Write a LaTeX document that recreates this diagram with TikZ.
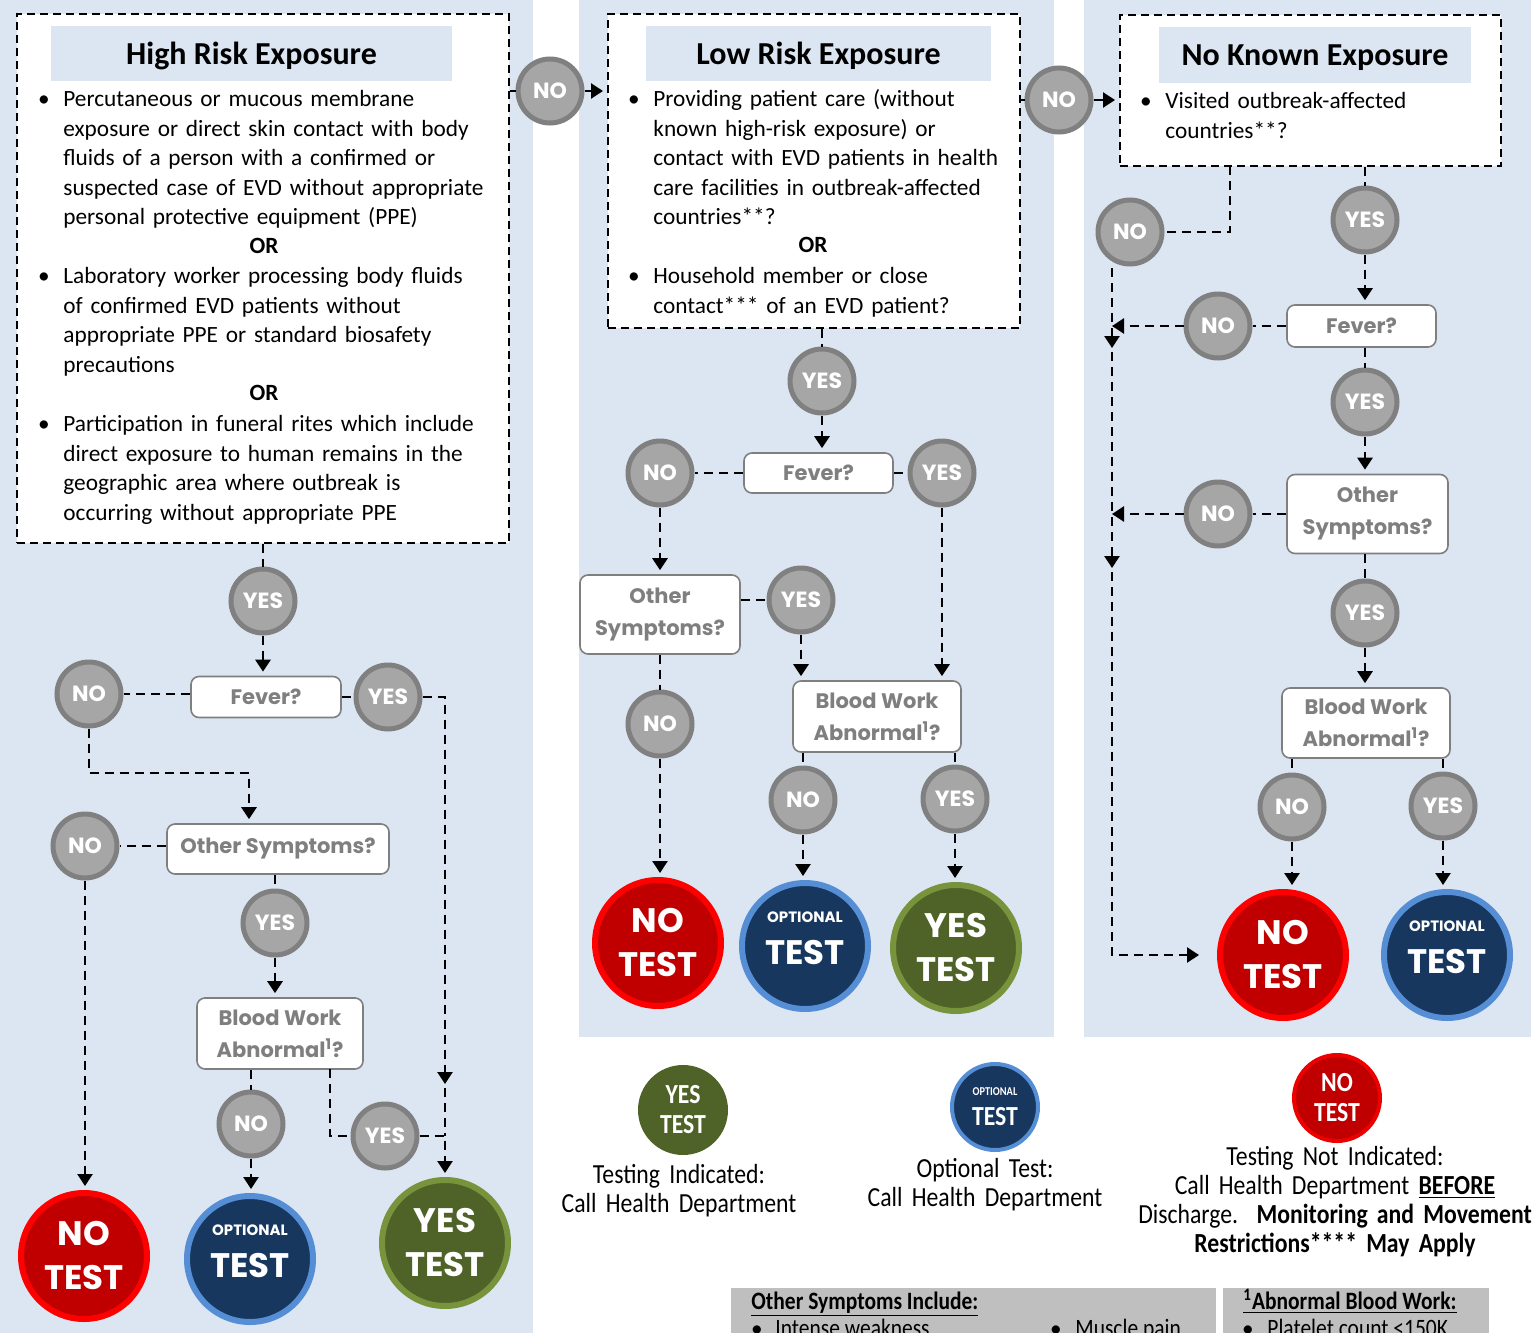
\documentclass[tikz,border=0pt]{standalone}
\usepackage{fontspec}
\setmainfont{Carlito}
\newfontfamily\gothicfont{Poppins}
\newfontfamily\narrowfont{Carlito}[FakeStretch=0.86]
\usetikzlibrary{arrows.meta,positioning,calc}

\definecolor{panelblue}{HTML}{DCE6F2}
\definecolor{ansfill}{HTML}{A6A6A6}
\definecolor{ansedge}{HTML}{808080}
\definecolor{askgray}{HTML}{7F7F7F}
\definecolor{nofill}{HTML}{C00000}
\definecolor{noedge}{HTML}{FF0000}
\definecolor{optfill}{HTML}{17375E}
\definecolor{optedge}{HTML}{558ED5}
\definecolor{yesfill}{HTML}{4F6228}
\definecolor{yesedge}{HTML}{77933C}
\definecolor{keygray}{HTML}{BFBFBF}

\tikzset{
  flow/.style={line width=1.3pt, dash pattern=on 4.5pt off 3pt},
  flowarrow/.style={flow, -{Triangle[width=7.5pt,length=6pt]}, shorten >=2pt},
  expbox/.style={draw=black, fill=white, line width=1pt, dash pattern=on 4pt off 2.5pt},
  band/.style={fill=panelblue, text depth=0pt, font=\bfseries\fontsize{16}{18}\selectfont},
  itemtext/.style={inner sep=0pt, text width=230pt, align=left, font=\fontsize{11.65}{14.75}\selectfont},
  dot/.style={inner sep=0pt, font=\fontsize{11.65}{14.75}\selectfont},
  ortext/.style={inner sep=0pt, font=\bfseries\fontsize{11.65}{14.75}\selectfont},
  ask/.style={draw=askgray, fill=white, line width=0.8pt, rounded corners=4pt, text=askgray,
    align=center, inner sep=0pt, font=\gothicfont\bfseries\fontsize{10.5}{16}\selectfont},
  ans/.style={circle, fill=ansfill, draw=ansedge, line width=2.5pt, minimum size=32pt,
    inner sep=0pt, text=white, font=\gothicfont\bfseries\fontsize{11}{12}\selectfont},
  outcome/.style={circle, minimum size=63pt, line width=3pt, inner sep=0pt, text=white,
    align=center, font=\gothicfont\bfseries\fontsize{17}{22}\selectfont},
  notest/.style={outcome, fill=nofill, draw=noedge},
  opttest/.style={outcome, fill=optfill, draw=optedge},
  yestest/.style={outcome, fill=yesfill, draw=yesedge},
  keycircle/.style={circle, minimum size=43pt, line width=2pt, inner sep=0pt, text=white,
    align=center, font=\narrowfont\bfseries\fontsize{13.8}{15}\selectfont},
  keytext/.style={inner sep=0pt, align=center, font=\narrowfont\fontsize{13.8}{14.5}\selectfont},
  foottext/.style={inner sep=0pt, font=\narrowfont\fontsize{12.5}{14.5}\selectfont}
}

\newcommand{\OptLabel}{{\fontsize{7.5}{9}\selectfont OPTIONAL}\\[-1pt]TEST\\[-14pt]\mbox{}}

% bullet and its text, text starts 19px right of the bullet
\newcommand{\ExpItem}[4]{
  \node[dot, anchor=base] (#1d) at (#2,#3) {\textbullet};
  \node[itemtext, anchor=base west] (#1) at ($(#2,#3)+(19,0)$) {#4};
}

\begin{document}
\begin{tikzpicture}[x=0.5pt,y=-0.5pt]
\useasboundingbox (0,0) rectangle (1538,1333);

% panels
\fill[panelblue] (0,0) rectangle (533,1333);
\fill[panelblue] (579,0) rectangle (1054,1037);
\fill[panelblue] (1084,0) rectangle (1531,1037);
\fill[keygray] (731,1288) rectangle (1216,1340);
\fill[keygray] (1223,1288) rectangle (1489,1340);

% exposure boxes
\node[expbox, minimum width=246pt, minimum height=264.5pt] (hiBox) at (263,278.5) {};
\node[expbox, minimum width=206pt, minimum height=157pt] (loBox) at (814,171) {};
\node[expbox, minimum width=190.5pt, minimum height=75.5pt] (noBox) at (1310.5,90.5) {};

\node[band, minimum width=200.5pt, minimum height=27.5pt] (hiBand) at (251.5,53.5) {High Risk Exposure};
\node[band, minimum width=172.5pt, minimum height=27.5pt] (loBand) at (818.5,53.5) {Low Risk Exposure};
\node[band, minimum width=156pt, minimum height=28pt] (noBand) at (1315,55) {No Known Exposure};

\ExpItem{hiA}{44}{106.5}{Percutaneous or mucous membrane\\exposure or direct skin contact with body\\fluids of a person with a confirmed or\\suspected case of EVD without appropriate\\personal protective equipment (PPE)}
\node[ortext, anchor=base] (hiOr1) at (264,253.5) {OR};
\ExpItem{hiB}{44}{283.5}{Laboratory worker processing body fluids\\of confirmed EVD patients without\\appropriate PPE or standard biosafety\\precautions}
\node[ortext, anchor=base] (hiOr2) at (264,400.5) {OR};
\ExpItem{hiC}{44}{431.5}{Participation in funeral rites which include\\direct exposure to human remains in the\\geographic area where outbreak is\\occurring without appropriate PPE}

\ExpItem{loA}{634}{106.5}{Providing patient care (without\\known high-risk exposure) or\\contact with EVD patients in health\\care facilities in outbreak-affected\\countries**?}
\node[ortext, anchor=base] (loOr) at (813,252.5) {OR};
\ExpItem{loB}{634}{283.5}{Household member or close\\contact*** of an EVD patient?}

\ExpItem{noA}{1146}{108.5}{Visited outbreak-affected\\countries**?}

% question boxes
\node[ask, minimum width=75pt, minimum height=20.5pt] (feverL) at (266,697) {Fever?};
\node[ask, minimum width=111pt, minimum height=25pt] (otherL) at (278,849) {Other Symptoms?};
\node[ask, minimum width=83pt, minimum height=35.5pt] (bloodL) at (280,1033.5) {Blood Work\\Abnormal\textsuperscript{1}?};
\node[ask, minimum width=74.5pt, minimum height=20pt] (feverM) at (818.5,473) {Fever?};
\node[ask, minimum width=80pt, minimum height=39.5pt] (otherM) at (660,614.5) {Other\\Symptoms?};
\node[ask, minimum width=84pt, minimum height=35.5pt] (bloodM) at (877,716.5) {Blood Work\\Abnormal\textsuperscript{1}?};
\node[ask, minimum width=74.5pt, minimum height=21pt] (feverR) at (1361.5,326) {Fever?};
\node[ask, minimum width=80.5pt, minimum height=39.5pt] (otherR) at (1367.5,514) {Other\\Symptoms?};
\node[ask, minimum width=84pt, minimum height=35pt] (bloodR) at (1366,723) {Blood Work\\Abnormal\textsuperscript{1}?};

% answers
\node[ans] (noA1) at (550,91) {NO};
\node[ans] (noB1) at (1059,100) {NO};

\node[ans] (yesL1) at (263,601) {YES};
\node[ans] (noL1) at (89,694) {NO};
\node[ans] (yesL2) at (388,697) {YES};
\node[ans] (noL2) at (85,846) {NO};
\node[ans] (yesL3) at (275,923) {YES};
\node[ans] (noL3) at (251,1124) {NO};
\node[ans] (yesL4) at (385,1136) {YES};

\node[ans] (yesM1) at (822,381) {YES};
\node[ans] (noM1) at (660,473) {NO};
\node[ans] (yesM2) at (942,473) {YES};
\node[ans] (yesM3) at (801,600) {YES};
\node[ans] (noM2) at (660,724) {NO};
\node[ans] (noM3) at (803,800) {NO};
\node[ans] (yesM4) at (955,799) {YES};

\node[ans] (yesR1) at (1365,220) {YES};
\node[ans] (noR1) at (1130,232) {NO};
\node[ans] (noR2) at (1218,326) {NO};
\node[ans] (yesR2) at (1365,402) {YES};
\node[ans] (noR3) at (1218,514) {NO};
\node[ans] (yesR3) at (1365,613) {YES};
\node[ans] (noR4) at (1292,807) {NO};
\node[ans] (yesR4) at (1443,806) {YES};

% outcomes
\node[notest] (noTL) at (84,1256) {NO\\TEST};
\node[opttest] (optL) at (250,1259) {\OptLabel};
\node[yestest] (yesTL) at (445,1243) {YES\\TEST};
\node[notest] (noTM) at (658,943) {NO\\TEST};
\node[opttest] (optM) at (805,946) {\OptLabel};
\node[yestest] (yesTM) at (956,948) {YES\\TEST};
\node[notest] (noTR) at (1283,955) {NO\\TEST};
\node[opttest] (optR) at (1447,955) {\OptLabel};

% connectors: top row
\draw[flow] (hiBox.east |- noA1) -- (noA1);
\draw[flowarrow] (noA1) -- (noA1 -| loBox.west);
\draw[flow] (loBox.east |- noB1) -- (noB1);
\draw[flowarrow] (noB1) -- (noB1 -| noBox.west);

% high risk
\coordinate (jL1) at (249,773);
\coordinate (jL3) at (445,1088);
\coordinate (jL4) at (330,1069);
\draw[flow] (hiBox.south) -- (yesL1);
\draw[flowarrow] (yesL1) -- (yesL1 |- feverL.north);
\draw[flow] (feverL.west |- noL1) -- (noL1);
\draw[flow] (feverL) -- (yesL2);
\draw[flowarrow] (noL1) |- (jL1) -- (jL1 |- otherL.north);
\draw[flowarrow] (yesL2) -| (jL3);
\draw[flow] (jL3) -- (jL3 |- yesL4);
\draw[flow] (otherL.west |- noL2) -- (noL2);
\draw[flowarrow] (noL2) -- (noL2 |- noTL.north);
\draw[flow] (otherL.south -| yesL3) -- (yesL3);
\draw[flowarrow] (yesL3) -- (yesL3 |- bloodL.north);
\draw[flow] (bloodL.south -| noL3) -- (noL3);
\draw[flowarrow] (noL3) -- (noL3 |- optL.north);
\draw[flow] (jL4) |- (yesL4);
\draw[flowarrow] (yesL4) -| (yesTL.north);

% low risk
\draw[flow] (loBox.south -| yesM1) -- (yesM1);
\draw[flowarrow] (yesM1) -- (yesM1 |- feverM.north);
\draw[flow] (feverM) -- (noM1);
\draw[flow] (feverM) -- (yesM2);
\draw[flowarrow] (noM1) -- (noM1 |- otherM.north);
\draw[flowarrow] (yesM2) -- (yesM2 |- bloodM.north);
\draw[flow] (otherM.east |- yesM3) -- (yesM3);
\draw[flowarrow] (yesM3) -- (yesM3 |- bloodM.north);
\draw[flow] (otherM.south -| noM2) -- (noM2);
\draw[flowarrow] (noM2) -- (noM2 |- noTM.north);
\draw[flow] (bloodM.south -| noM3) -- (noM3);
\draw[flowarrow] (noM3) -- (noM3 |- optM.north);
\draw[flow] (bloodM.south -| yesM4) -- (yesM4);
\draw[flowarrow] (yesM4) -- (yesM4 |- yesTM.north);

% no known exposure
\coordinate (jR1) at (1230,166);
\coordinate (rR0) at (1112,268);
\coordinate (rR1) at (1112,352);
\coordinate (rR2) at (1112,572);
\draw[flow] (noBox.south -| yesR1) -- (yesR1);
\draw[flowarrow] (yesR1) -- (yesR1 |- feverR.north);
\draw[flow] (jR1) |- (noR1);
\draw[flowarrow] (rR0) -- (rR1);
\draw[flowarrow] (rR1) -- (rR2);
\draw[flowarrow, shorten >=9pt] (rR2) |- (noTR.west);
\draw[flow] (feverR) -- (noR2);
\draw[flowarrow, shorten >=0pt] (noR2) -- (noR2 -| rR0);
\draw[flow] (feverR.south -| yesR2) -- (yesR2);
\draw[flowarrow] (yesR2) -- (yesR2 |- otherR.north);
\draw[flow] (otherR) -- (noR3);
\draw[flowarrow, shorten >=0pt] (noR3) -- (noR3 -| rR0);
\draw[flow] (otherR.south -| yesR3) -- (yesR3);
\draw[flowarrow] (yesR3) -- (yesR3 |- bloodR.north);
\draw[flow] (bloodR.south -| noR4) -- (noR4);
\draw[flowarrow] (noR4) -- (noR4 |- noTR.north);
\draw[flow] (bloodR.south -| yesR4) -- (yesR4);
\draw[flowarrow] (yesR4) -- (yesR4 |- optR.north);

% key
\node[keycircle, fill=yesfill, draw=yesfill] (yesK) at (683,1110) {YES\\TEST};
\node[keycircle, fill=optfill, draw=optedge] (optK) at (995,1107) {{\fontsize{6}{7}\selectfont OPTIONAL}\\TEST};
\node[keycircle, fill=nofill, draw=noedge!70!nofill] (noK) at (1337,1098) {NO\\TEST};
\node[keytext, text width=150pt, anchor=base] (yesKt) at (679,1183) {Testing Indicated:\\Call Health Department};
\node[keytext, text width=150pt, anchor=base] (optKt) at (985,1177) {Optional Test:\\Call Health Department};
\node[keytext, text width=220pt, anchor=base] (noKt) at (1335,1165) {Testing Not Indicated:\\Call Health Department \textbf{\underline{BEFORE}}\\Discharge.\ \ \textbf{Monitoring and Movement}\\\textbf{Restrictions**** May Apply}};

% notes at the foot
\node[foottext, anchor=base west, font=\narrowfont\bfseries\fontsize{12.5}{14.5}\selectfont] (symHead) at (751,1309) {\underline{Other Symptoms Include:}};
\node[dot, anchor=base] (symAd) at (757,1336) {\textbullet};
\node[foottext, anchor=base west] (symA) at (775,1336) {Intense weakness};
\node[dot, anchor=base] (symBd) at (1056,1336) {\textbullet};
\node[foottext, anchor=base west] (symB) at (1075,1336) {Muscle pain};
\node[foottext, anchor=base west, font=\narrowfont\bfseries\fontsize{12.5}{14.5}\selectfont] (bwHead) at (1243,1309) {\underline{\textsuperscript{1}Abnormal Blood Work:}};
\node[dot, anchor=base] (bwAd) at (1248,1336) {\textbullet};
\node[foottext, anchor=base west] (bwA) at (1267,1336) {Platelet count \textless150K};
\end{tikzpicture}
\end{document}
